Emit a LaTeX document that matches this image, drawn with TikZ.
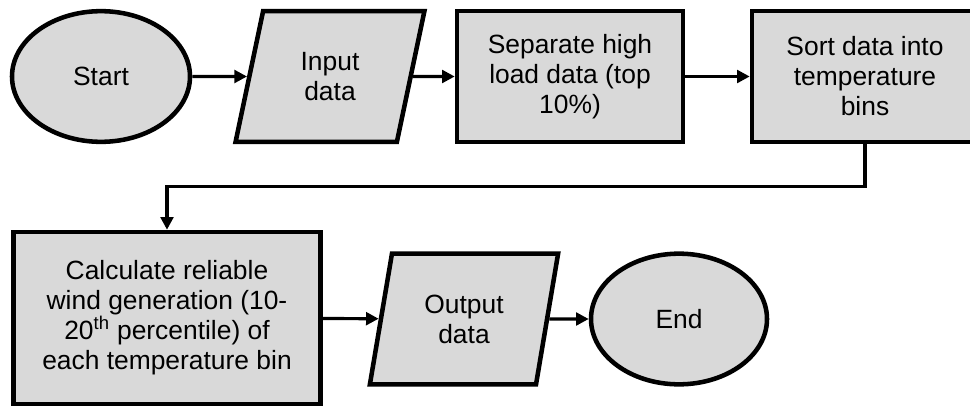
\documentclass[tikz,border=0pt]{standalone}
\usepackage{fontspec}
\setmainfont{Liberation Sans}
\usetikzlibrary{shapes,arrows.meta}
\definecolor{boxgray}{HTML}{D9D9D9}

\begin{document}
\begin{tikzpicture}[x=0.75pt,y=-0.75pt,>={Triangle[length=9.5pt,width=9.5pt]},
  every node/.style={font=\fontsize{19.8}{22.5}\selectfont,align=center,draw,line width=3.4pt,fill=boxgray,inner sep=0pt},
  term/.style={ellipse,minimum width=133.5pt,minimum height=98pt},
  io/.style={trapezium,trapezium left angle=76,trapezium right angle=104,trapezium stretches=true,minimum width=142.5pt,minimum height=98pt},
  proc/.style={rectangle,minimum width=169.5pt,minimum height=98pt},
  flow/.style={->,line width=2.4pt}]
\useasboundingbox (0,0) rectangle (970,407);
\clip (0,0) rectangle (970,407);

\node[term](start) at (101,76.5) {Start};
\node[io](input) at (330,76.5) {Input\\data};
\node[proc](sep) at (570,76.5) {Separate high\\load data (top\\10\%)};
\node[proc](sort) at (865,76.5) {Sort data into\\temperature\\bins};
\node[proc,minimum width=230pt,minimum height=129pt](calc) at (167,318) {Calculate reliable\\wind generation (10-\\20\textsuperscript{th} percentile) of\\each temperature bin};
\node[io,minimum width=142pt](output) at (464,319) {Output\\data};
\node[term,minimum width=132pt](end) at (679,319) {End};

\draw[flow] (start) -- (input);
\draw[flow] (input) -- (sep);
\draw[flow] (sep) -- (sort);
\draw[flow] (sort.south) -- ++(0,42) -| (calc.north);
\draw[flow] (calc) -- (output);
\draw[flow] (output) -- (end);

\end{tikzpicture}
\end{document}
